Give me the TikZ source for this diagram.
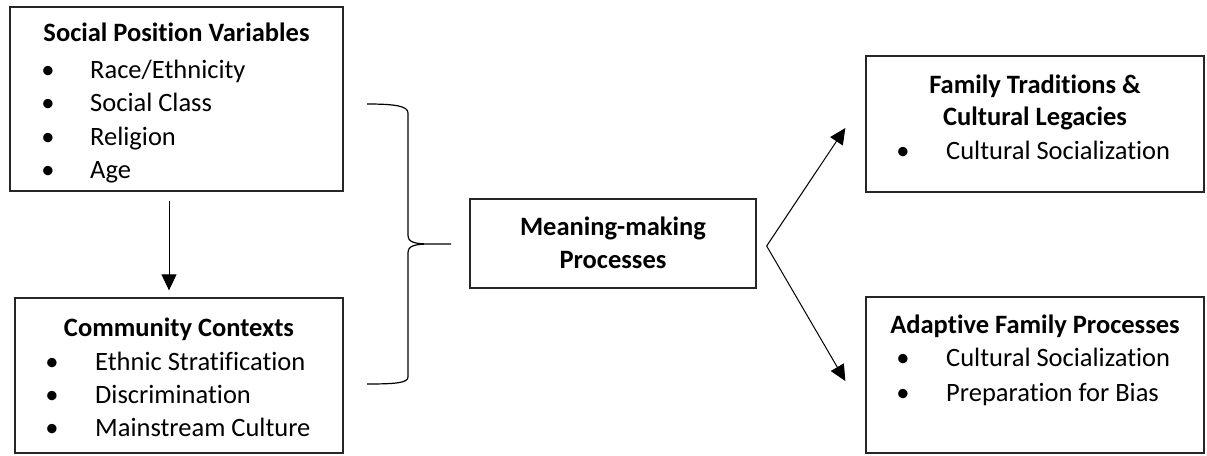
\documentclass[tikz,border=0pt]{standalone}
\usepackage{fontspec}
\setmainfont{Carlito}[Ligatures=NoCommon,Contextuals=NoAlternate]
\usetikzlibrary{arrows.meta,calc}
\begin{document}
\begin{tikzpicture}[x=1pt,y=-1pt,
  box/.style={draw=black!85,line width=1.3pt,inner sep=0,minimum width=#1},
  txt/.style={inner sep=0,yshift=-6.5pt,font=\fontsize{26.5}{33}\selectfont},
  ttl/.style={txt,anchor=mid,font=\fontsize{26.5}{33}\selectfont\bfseries},
  itm/.style={txt,anchor=mid west},
  bul/.style={txt,anchor=mid},
  arr/.style={line width=1pt,-{Triangle[length=16pt,width=15pt]}},
  brace/.style={line width=1.2pt}]
\useasboundingbox (0,0) rectangle (1207,455);
% boxes
\node[box=333pt,minimum height=184pt] (spv) at (176.5,99) {};
\node[box=328pt,minimum height=155pt] (cc) at (179,375.5) {};
\node[box=286pt,minimum height=89pt] (mmp) at (613,243.5) {};
\node[box=338pt,minimum height=136pt] (ftcl) at (1035,124) {};
\node[box=338pt,minimum height=156pt] (afp) at (1035,375) {};
% Social Position Variables
\node[ttl] (spvt) at (176.5,33) {Social Position Variables};
\node[bul] (b1) at (48,70) {•};  \node[itm] (i1) at (90,70) {Race/Ethnicity};
\node[bul] (b2) at (48,103) {•}; \node[itm] (i2) at (90,103) {Social Class};
\node[bul] (b3) at (48,137) {•}; \node[itm] (i3) at (90,137) {Religion};
\node[bul] (b4) at (48,170) {•}; \node[itm] (i4) at (90,170) {Age};
% Community Contexts
\node[ttl] (cct) at (179,328) {Community Contexts};
\node[bul] (b5) at (52,362) {•}; \node[itm] (i5) at (95,362) {Ethnic Stratification};
\node[bul] (b6) at (52,395) {•}; \node[itm] (i6) at (95,395) {Discrimination};
\node[bul] (b7) at (52,428) {•}; \node[itm] (i7) at (95,428) {Mainstream Culture};
% Meaning-making
\node[ttl] (m1) at (613,227) {Meaning-making};
\node[ttl] (m2) at (613,260) {Processes};
% Family Traditions
\node[ttl] (f1) at (1035,85) {Family Traditions \&};
\node[ttl] (f2) at (1035,117) {Cultural Legacies};
\node[bul] (b8) at (903,151) {•}; \node[itm] (i8) at (946,151) {Cultural Socialization};
% Adaptive
\node[ttl] (a1) at (1035,325) {Adaptive Family Processes};
\node[bul] (b9) at (903,358) {•}; \node[itm] (i9) at (946,358) {Cultural Socialization};
\node[bul] (b10) at (903,393) {•}; \node[itm] (i10) at (946,393) {Preparation for Bias};
% down arrow
\draw[arr] ($(spv.south)+(-7.5,9)$) -- ($(cc.north)+(-10,-7)$);
% brace
\draw[brace] (367,104) .. controls (395,104) and (408,106) .. (408,113) -- (408,235)
  .. controls (408,242) and (414,244) .. (430,244) -- (451,244)
  (430,244) .. controls (414,244) and (408,246) .. (408,253) -- (408,377)
  .. controls (408,383) and (395,384) .. (367,384);
% branching arrows
\coordinate (v) at ($(mmp.east)+(10,2.5)$);
\coordinate (t1) at ($(ftcl.west)+(-20,4)$);
\coordinate (t2) at ($(afp.west)+(-20,6)$);
\draw[arr] (v) -- (t1);
\draw[arr] (v) -- (t2);
\end{tikzpicture}
\end{document}
